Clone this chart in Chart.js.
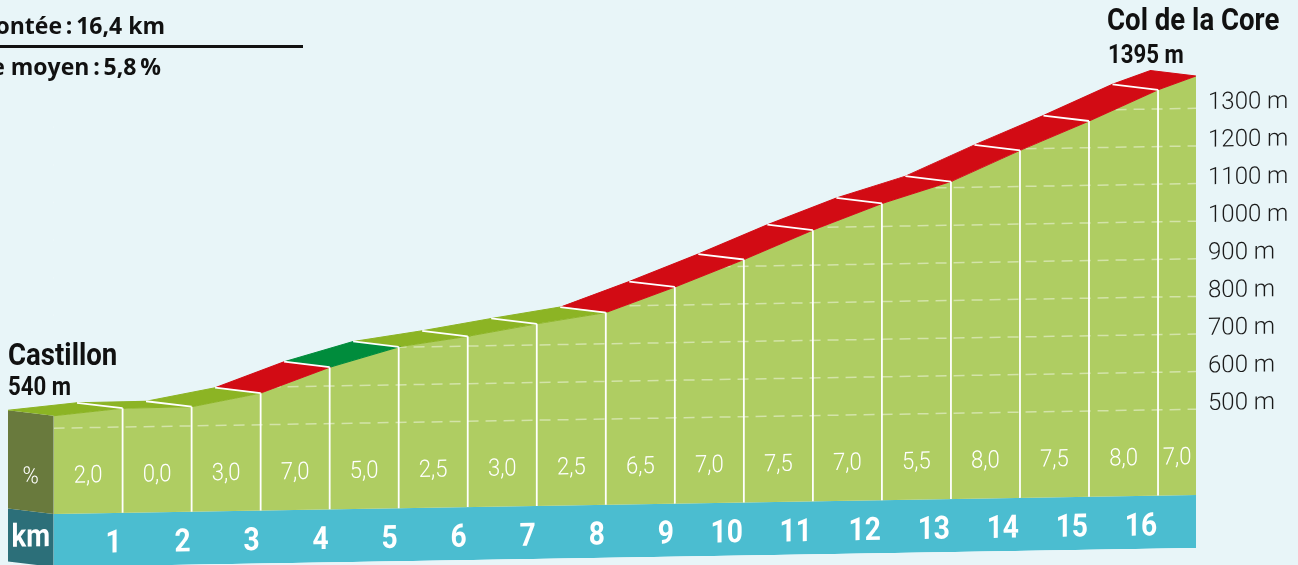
<!DOCTYPE html>
<html lang="fr">
<head>
<meta charset="utf-8">
<title>Col de la Core</title>
<script src="https://cdn.jsdelivr.net/npm/chart.js@4.4.1/dist/chart.umd.min.js"></script>
<style>
  html, body { margin: 0; padding: 0; background: #e8f5f8; overflow: hidden; }
  #wrap { position: relative; width: 1298px; height: 565px; }
  #wrap canvas { position: absolute; left: 0; top: 0; }
  .t { position: absolute; white-space: nowrap; line-height: 1; color: #111; }
  .head { font-family: "Open Sans", Roboto, sans-serif; font-weight: 700; font-size: 23px; text-align: right; }
  .name { font-family: Roboto, sans-serif; font-weight: 700; font-size: 31px; transform: scaleX(0.89); transform-origin: 0 0; }
  .alt { font-family: Roboto, sans-serif; font-weight: 700; font-size: 25px; transform: scaleX(0.89); transform-origin: 0 0; }
  #rule { position: absolute; left: 0; top: 45px; width: 303px; height: 3px; background: #111; }
</style>
</head>
<body>
<div id="wrap">
  <canvas id="profile"></canvas>
  <div class="t head" style="right:1133px; top:14px;">Longueur de la montée&#8201;:&#8201;16,4&nbsp;km</div>
  <div id="rule"></div>
  <div class="t head" style="right:1137px; top:55px;">Pourcentage moyen&#8201;:&#8201;5,8&#8201;%</div>
  <div class="t name" style="left:8px; top:339px;">Castillon</div>
  <div class="t alt" style="left:8px; top:374px;">540 m</div>
  <div class="t name" style="left:1107px; top:4px;">Col de la Core</div>
  <div class="t alt" style="left:1108px; top:42px;">1395 m</div>
</div>
<script>
// profile: km marks, altitude at each mark, gradient of each km
const distances = [0, 1, 2, 3, 4, 5, 6, 7, 8, 9, 10, 11, 12, 13, 14, 15, 16, 16.55];
const elevations = [533, 550, 551, 584, 650, 701, 726, 756, 783, 848, 918, 993, 1061, 1116, 1196, 1271, 1351, 1386];
const gradients = [2.0, 0.0, 3.0, 7.0, 5.0, 2.5, 3.0, 2.5, 6.5, 7.0, 7.5, 7.0, 5.5, 8.0, 7.5, 8.0, 7.0];
const kmLabels = ['1', '2', '3', '4', '5', '6', '7', '8', '9', '10', '11', '12', '13', '14', '15', '16'];
const altitudeTicks = [500, 600, 700, 800, 900, 1000, 1100, 1200, 1300];

// drawing look
const Y_MIN = 131;
const Y_MAX = 1588;
const FACE_BASE = 272;      // bottom of the green face
const DEPTH_KM = 0.66;      // 3d depth of the top band, in x units
const DEPTH_M = 16.5;       // and in y units
const SHEAR = 0.0166;       // the whole drawing leans a little
const FONT = 'Roboto, "Liberation Sans", sans-serif';

const SKY = '#e8f5f8';
const FACE = '#afcd62';
const KM_BAND = '#4bbdd0';
const SIDE_FACE = '#697a3d';
const SIDE_KM = '#2c6f79';
const LIGHT = '#8cb424';
const DARK = '#008c3c';
const RED = '#d20b14';

function bandColor(g) {
  if (g >= 5.5) return RED;
  if (g >= 5) return DARK;
  return LIGHT;
}

const X_MAX = distances[distances.length - 1];
const profile = distances.map((d, i) => ({ x: d, y: elevations[i] }));
const back = p => ({ x: p.x - DEPTH_KM, y: p.y + DEPTH_M });

const datasets = [];

// km band and its side
datasets.push({ data: [{ x: 0, y: FACE_BASE }, { x: X_MAX, y: FACE_BASE }], fill: 'start',
  backgroundColor: KM_BAND, borderWidth: 0, order: 10 });
datasets.push({ data: [{ x: 0, y: FACE_BASE }, { x: 0, y: Y_MIN }, back({ x: 0, y: Y_MIN }), back({ x: 0, y: FACE_BASE })],
  fill: 'shape', backgroundColor: SIDE_KM, borderWidth: 0, order: 10 });

// green face
datasets.push({ data: profile, fill: { value: FACE_BASE }, backgroundColor: FACE, borderWidth: 0, order: 9 });

// dashed altitude lines
const gridPts = [];
altitudeTicks.forEach(a => {
  gridPts.push({ x: 0, y: a }, { x: X_MAX, y: a }, { x: X_MAX, y: null });
});
datasets.push({ data: gridPts, borderColor: 'rgba(255,255,255,0.45)', borderWidth: 1.5,
  borderDash: [11, 7], fill: false, order: 8 });

// sky above the profile hides the dashes there
datasets.push({ data: profile, fill: 'end', backgroundColor: SKY, borderWidth: 0, order: 7 });

// left side of the green face
datasets.push({ data: [profile[0], { x: 0, y: FACE_BASE }, back({ x: 0, y: FACE_BASE }), back(profile[0])],
  fill: 'shape', backgroundColor: SIDE_FACE, borderWidth: 0, order: 6 });

// top band, one piece per km
gradients.forEach((g, i) => {
  const c = bandColor(g);
  datasets.push({ data: [profile[i], profile[i + 1], back(profile[i + 1]), back(profile[i])],
    fill: 'shape', backgroundColor: c, borderColor: c, borderWidth: 1, order: 5 });
});

// white km lines on top band and on the face
const topLines = [];
const faceLines = [];
for (let i = 1; i < distances.length - 1; i++) {
  topLines.push(back(profile[i]), profile[i], { x: distances[i], y: null });
  faceLines.push(profile[i], { x: distances[i], y: FACE_BASE }, { x: distances[i], y: null });
}
datasets.push({ data: topLines, borderColor: '#ffffff', borderWidth: 1.8, fill: false, order: 4 });
datasets.push({ data: faceLines, borderColor: '#ffffff', borderWidth: 1.8, fill: false, order: 4 });

const shearPlugin = {
  id: 'shear',
  beforeDraw(chart) {
    const ctx = chart.ctx;
    ctx.save();
    ctx.transform(1, -SHEAR, 0, 1, 0, SHEAR * chart.chartArea.right);
  },
  afterDraw(chart) {
    chart.ctx.restore();
  }
};

// narrow text: squeeze the glyphs a little
function narrowText(ctx, text, x, y, sx) {
  ctx.save();
  ctx.translate(x, y);
  ctx.scale(sx, 1);
  ctx.fillText(text, 0, 0);
  ctx.restore();
}

const labelsPlugin = {
  id: 'profileLabels',
  afterDatasetsDraw(chart) {
    const { ctx, chartArea, scales: { x } } = chart;
    const bottom = chartArea.bottom;
    ctx.save();
    ctx.fillStyle = '#ffffff';
    ctx.textBaseline = 'alphabetic';

    ctx.font = '300 24px ' + FONT;
    ctx.textAlign = 'center';
    gradients.forEach((g, i) => {
      const cx = (x.getPixelForValue(distances[i]) + x.getPixelForValue(distances[i + 1])) / 2;
      narrowText(ctx, g.toFixed(1).replace('.', ','), cx, bottom - 84, 0.92);
    });
    narrowText(ctx, '%', x.getPixelForValue(-DEPTH_KM / 2), bottom - 84, 0.92);

    ctx.font = 'bold 32px ' + FONT;
    narrowText(ctx, 'km', x.getPixelForValue(-DEPTH_KM / 2), bottom - 21, 0.86);
    ctx.textAlign = 'right';
    kmLabels.forEach((k, i) => {
      narrowText(ctx, k, x.getPixelForValue(distances[i + 1]) - 1, bottom - 13.5, 0.88);
    });
    ctx.restore();
  }
};

new Chart(document.getElementById('profile'), {
  type: 'line',
  data: { datasets: datasets },
  options: {
    responsive: true,
    maintainAspectRatio: false,
    animation: false,
    events: [],
    layout: { padding: { left: 8, right: 0, top: 0, bottom: 17 } },
    elements: { point: { radius: 0 }, line: { tension: 0 } },
    plugins: { legend: { display: false }, tooltip: { enabled: false } },
    scales: {
      x: { type: 'linear', min: -DEPTH_KM, max: X_MAX, display: false },
      y: {
        type: 'linear',
        position: 'right',
        min: Y_MIN,
        max: Y_MAX,
        afterBuildTicks: s => { s.ticks = altitudeTicks.map(v => ({ value: v })); },
        afterFit: s => {
          s.width = 102;
          s.paddingTop = 0;
          s.paddingBottom = 0;
        },
        grid: { display: false, drawTicks: false },
        border: { display: false },
        ticks: {
          autoSkip: false,
          padding: 12,
          labelOffset: -5,
          color: '#1a1a1a',
          font: { family: FONT, size: 24, weight: 300 },
          callback: v => v + ' m'
        }
      }
    }
  },
  plugins: [shearPlugin, labelsPlugin]
});
</script>
</body>
</html>
